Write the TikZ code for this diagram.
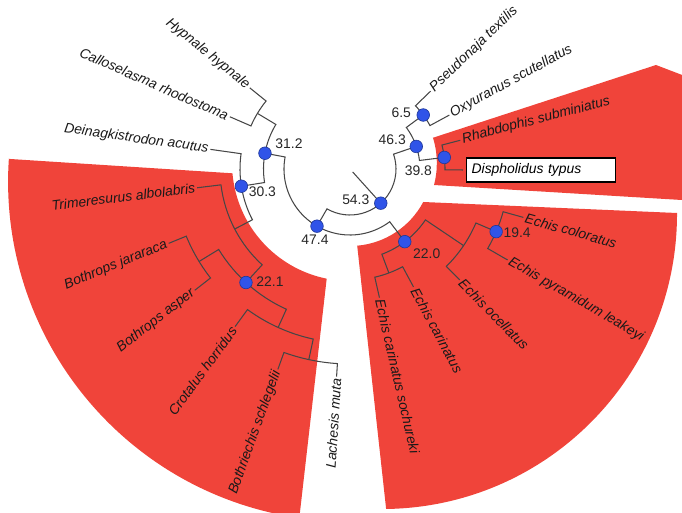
\documentclass[tikz,border=0pt]{standalone}
\usepackage{fontspec}
\setmainfont{Liberation Sans}
\usepackage{xcolor}
\definecolor{cladered}{RGB}{240,68,58}
\definecolor{nodeblue}{RGB}{48,84,232}
\definecolor{branchgray}{RGB}{70,70,70}
\usetikzlibrary{calc,positioning}

\begin{document}
\begin{tikzpicture}[
  x=1pt, y=1pt,
  branch/.style={draw=branchgray, line width=1.05pt, line join=miter},
  sector/.style={fill=cladered, draw=none},
  taxon/.style={font=\fontsize{13.9}{16}\selectfont\itshape, text=black!90, inner sep=2pt},
  nodedot/.style={circle, fill=nodeblue, draw=nodeblue!65!black, line width=0.6pt,
                  minimum size=12.6pt, inner sep=0pt},
  support/.style={font=\fontsize{13.9}{16}\selectfont, text=black!85, inner sep=0pt},
  hlbox/.style={draw=black, line width=1.3pt, fill=white, text width=139pt,
                minimum height=24pt, inner xsep=5pt, align=left,
                font=\fontsize{13.9}{16}\selectfont\itshape}
]
\useasboundingbox (0,0) rectangle (682,512);

%% highlighted clades
\begin{scope}
  \clip (0,0) rectangle (682,512);
  \fill[sector] (434,327) arc[start angle=-14.7, end angle=17.2, radius=86]
    -- (656,447) -- (690,434) -- (690,311.5) -- cycle;
  \fill[sector] (423.3,310) -- (677,299) arc[start angle=0.2, end angle=-89.2, radius=295]
    -- (357.2,266.3) arc[start angle=-85, end angle=-28, radius=83] -- cycle;
  \fill[sector] (8.8,353.1) -- (232.45,338.7) arc[start angle=185, end angle=258.6, radius=118]
    -- (299.3,-6) arc[start angle=261.75, end angle=176.1, radius=340] -- cycle;
\end{scope}

%% tree, polar around the root
\begin{scope}[shift={(350,343)}]
  % tips
  \coordinate (pseu) at (44:112);
  \coordinate (oxyu) at (28.5:113);
  \coordinate (rhab) at (14.6:114);
  \coordinate (disp) at (-0.5:113);
  \coordinate (ecol) at (-15.6:180);
  \coordinate (epyr) at (-30:182);
  \coordinate (eoce) at (-45.3:156);
  \coordinate (ecar) at (-61.7:134);
  \coordinate (esoc) at (-77.1:132);
  \coordinate (lach) at (266.3:208);
  \coordinate (both) at (250.2:213);
  \coordinate (crot) at (233.9:195);
  \coordinate (basp) at (218:197);
  \coordinate (bjar) at (202.3:196);
  \coordinate (trim) at (187:154);
  \coordinate (dein) at (172:141);
  \coordinate (call) at (156.5:131);
  \coordinate (hypn) at (141:129);
  % inner nodes
  \coordinate (rootbase) at (312:4);
  \coordinate (n543) at (312:46);
  \coordinate (n463) at (18.8:70);
  \coordinate (n65) at (36.4:91);
  \coordinate (n398) at (7:95);
  \coordinate (n474) at (240:66);
  \coordinate (n220) at (307:91);
  \coordinate (nO) at (326:137);
  \coordinate (n194) at (-23.2:159);
  \coordinate (nCC) at (290.5:111);
  \coordinate (n312) at (169.5:86.5);
  \coordinate (nHC) at (149:108);
  \coordinate (n303) at (189:110);
  \coordinate (nP) at (207.5:130);
  \coordinate (n221) at (227.5:154);
  \coordinate (nB) at (211.5:177);
  \coordinate (nR) at (245.6:174);
  \coordinate (nS) at (257.8:195);

  %% branches
  \draw[branch] (rootbase) -- (n543);
  \draw[branch] (n474) -- (240:46) arc[start angle=240, end angle=378.8, radius=46] -- (n463);
  \draw[branch] (n65) -- (36.4:70) arc[start angle=36.4, end angle=7, radius=70] -- (n398);
  \draw[branch] (pseu) -- (44:91) arc[start angle=44, end angle=28.5, radius=91] -- (oxyu);
  \draw[branch] (rhab) -- (14.6:95) arc[start angle=14.6, end angle=-0.5, radius=95] -- (disp);
  \draw[branch] (n312) -- (169.5:66) arc[start angle=169.5, end angle=307, radius=66] -- (n220);
  \draw[branch] (nHC) -- (149:86.5) arc[start angle=149, end angle=189, radius=86.5] -- (n303);
  \draw[branch] (hypn) -- (141:108) arc[start angle=141, end angle=156.5, radius=108] -- (call);
  \draw[branch] (dein) -- (172:110) arc[start angle=172, end angle=207.5, radius=110] -- (nP);
  \draw[branch] (trim) -- (187:130) arc[start angle=187, end angle=227.5, radius=130] -- (n221);
  \draw[branch] (nB) -- (211.5:154) arc[start angle=211.5, end angle=245.6, radius=154] -- (nR);
  \draw[branch] (bjar) -- (202.3:177) arc[start angle=202.3, end angle=218, radius=177] -- (basp);
  \draw[branch] (crot) -- (233.9:174) arc[start angle=233.9, end angle=257.8, radius=174] -- (nS);
  \draw[branch] (both) -- (250.2:195) arc[start angle=250.2, end angle=266.3, radius=195] -- (lach);
  \draw[branch] (nO) -- (326:91) arc[start angle=326, end angle=290.5, radius=91] -- (nCC);
  \draw[branch] (ecar) -- (-61.7:111) arc[start angle=-61.7, end angle=-77.1, radius=111] -- (esoc);
  \draw[branch] (n194) -- (-23.2:137) arc[start angle=-23.2, end angle=-45.3, radius=137] -- (eoce);
  \draw[branch] (ecol) -- (-15.6:159) arc[start angle=-15.6, end angle=-30, radius=159] -- (epyr);
\end{scope}

%% support dots
\node[nodedot] (d65) at (n65) {};
\node[nodedot] (d463) at (n463) {};
\node[nodedot] (d398) at (n398) {};
\node[nodedot] (d543) at (n543) {};
\node[nodedot] (d474) at (n474) {};
\node[nodedot] (d312) at (n312) {};
\node[nodedot] (d303) at (n303) {};
\node[nodedot] (d220) at (n220) {};
\node[nodedot] (d194) at (n194) {};
\node[nodedot] (d221) at (n221) {};

%% support values
\node[support] (l65) at ($(d65)+(-22,2)$) {6.5};
\node[support] (l463) at ($(d463)+(-24,7)$) {46.3};
\node[support] (l398) at ($(d398)+(-26,-13)$) {39.8};
\node[support] (l543) at ($(d543)+(-25,3)$) {54.3};
\node[support] (l474) at ($(d474)+(-2,-14)$) {47.4};
\node[support] (l312) at ($(d312)+(24,10)$) {31.2};
\node[support] (l303) at ($(d303)+(21,-6)$) {30.3};
\node[support] (l220) at ($(d220)+(22,-12)$) {22.0};
\node[support] (l194) at ($(d194)+(21,-1)$) {19.4};
\node[support] (l221) at ($(d221)+(24,1)$) {22.1};

%% taxa
\node[taxon, anchor=west, rotate=44] (tpseu) at (pseu) {Pseudonaja textilis};
\node[taxon, anchor=west, rotate=28.5] (toxyu) at (oxyu) {Oxyuranus scutellatus};
\node[taxon, anchor=west, rotate=14.6] (trhab) at (rhab) {Rhabdophis subminiatus};
\node[hlbox, anchor=west, xshift=3pt] (tdisp) at (disp) {Dispholidus typus};
\node[taxon, anchor=west, rotate=-15.6] (tecol) at (ecol) {Echis coloratus};
\node[taxon, anchor=west, rotate=-30] (tepyr) at (epyr) {Echis pyramidum leakeyi};
\node[taxon, anchor=west, rotate=-45.3] (teoce) at (eoce) {Echis ocellatus};
\node[taxon, anchor=west, rotate=-61.7] (tecar) at (ecar) {Echis carinatus};
\node[taxon, anchor=west, rotate=-77.1] (tesoc) at (esoc) {Echis carinatus sochureki};
\node[taxon, anchor=east, rotate=86.3] (tlach) at (lach) {Lachesis muta};
\node[taxon, anchor=east, rotate=70.2] (tboth) at (both) {Bothriechis schlegelii};
\node[taxon, anchor=east, rotate=53.9] (tcrot) at (crot) {Crotalus horridus};
\node[taxon, anchor=east, rotate=38] (tbasp) at (basp) {Bothrops asper};
\node[taxon, anchor=east, rotate=22.3] (tbjar) at (bjar) {Bothrops jararaca};
\node[taxon, anchor=east, rotate=7] (ttrim) at (trim) {Trimeresurus albolabris};
\node[taxon, anchor=east, rotate=-8] (tdein) at (dein) {Deinagkistrodon acutus};
\node[taxon, anchor=east, rotate=-23.5] (tcall) at (call) {Calloselasma rhodostoma};
\node[taxon, anchor=east, rotate=-39] (thypn) at (hypn) {Hypnale hypnale};

\end{tikzpicture}
\end{document}
